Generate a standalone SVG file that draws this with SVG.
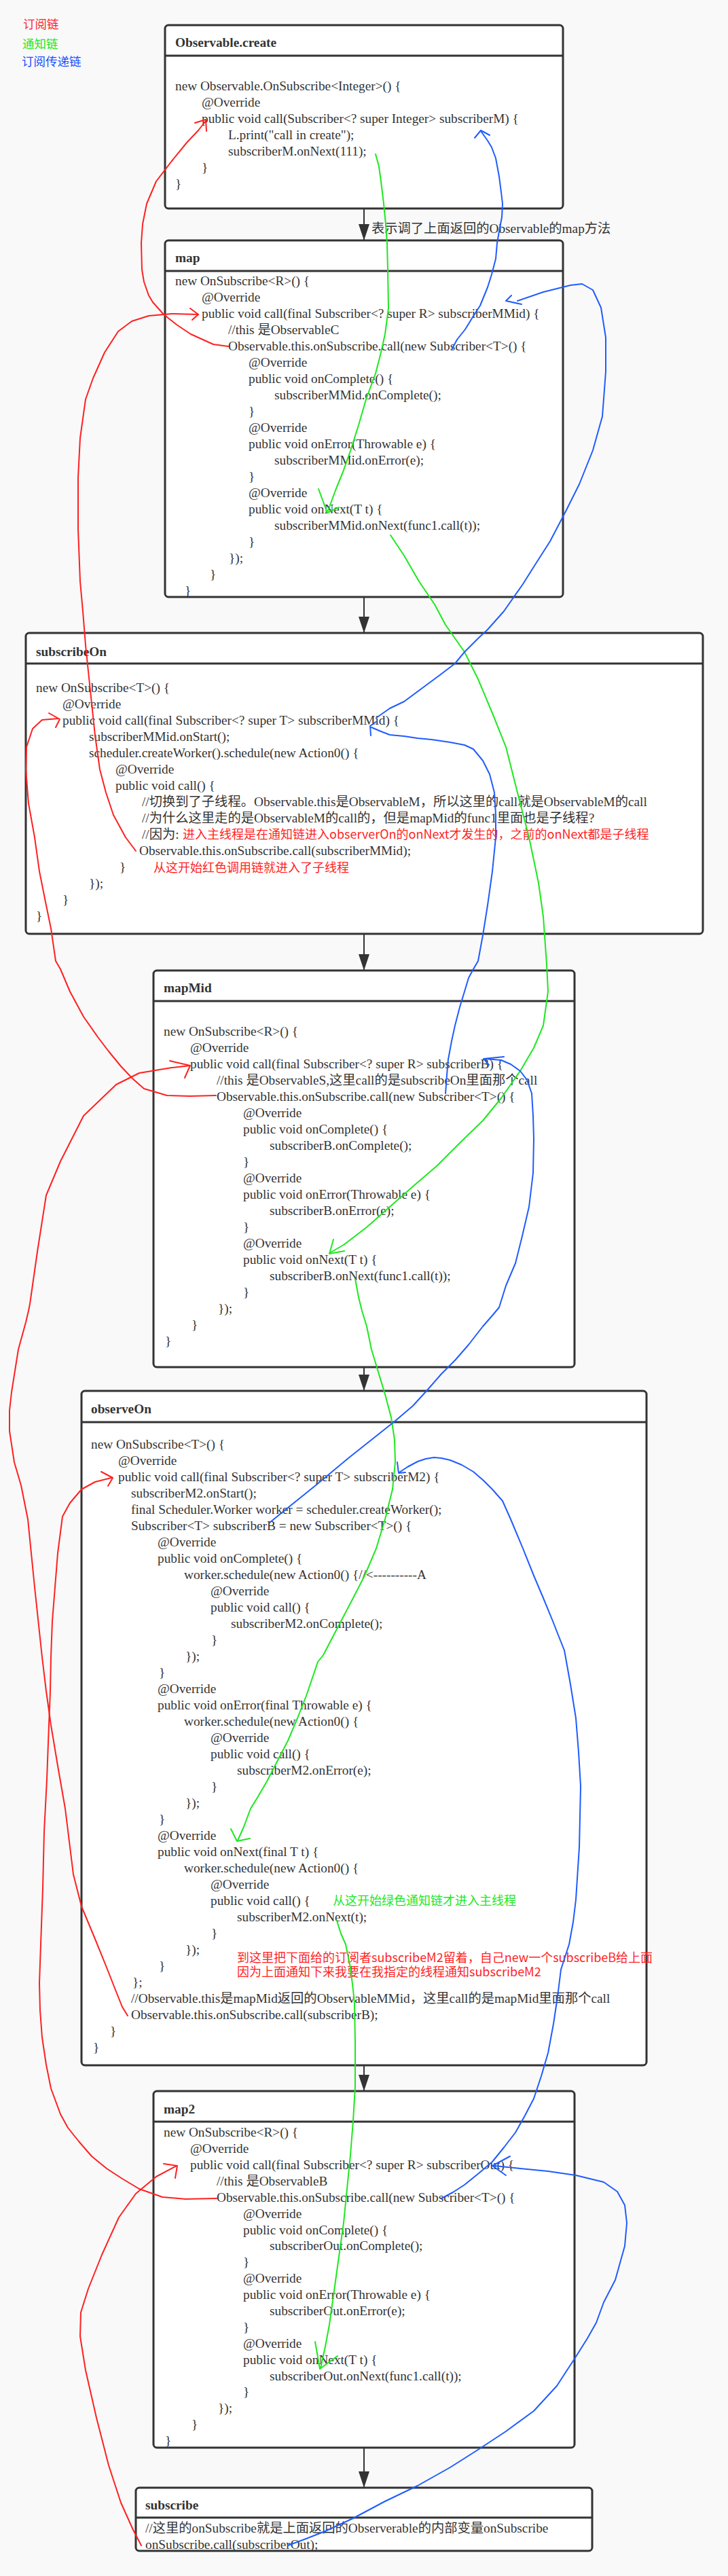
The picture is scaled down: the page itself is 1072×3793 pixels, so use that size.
<svg xmlns="http://www.w3.org/2000/svg" width="1072" height="3793" viewBox="0 0 1072 3793">
<defs>
<style>
.c{font-family:"Liberation Serif","Noto Sans CJK SC",serif;font-size:19.3px;fill:#333}
.t{font-weight:bold}
.a{font-family:"Noto Sans CJK SC",sans-serif;font-size:18px}
.lg{font-family:"Noto Sans CJK SC",sans-serif;font-size:17.5px}
.red{fill:#ff1f1f}.grn{fill:#1ee81e}.blu{fill:#1a4fff}
.box{fill:#fff;stroke:#333;stroke-width:3}
.hd{stroke:#333;stroke-width:3}
.arr{stroke:#333;stroke-width:2;fill:none}
.hr,.hg,.hb{fill:none;stroke-width:2;stroke-linecap:round;stroke-linejoin:round}
.hr{stroke:#ff2020}.hg{stroke:#1ee81e}.hb{stroke:#1f5cff}
</style>
<marker id="ah" viewBox="0 0 24 16" refX="24" refY="8" markerWidth="24" markerHeight="16" markerUnits="userSpaceOnUse" orient="auto"><path d="M0,0 L24,8 L0,16 z" fill="#333"/></marker>
</defs>
<rect x="0" y="0" width="1072" height="3793" fill="#f9f9f9"/>

<g id="legend">
<text class="lg red" x="34" y="42">订阅链</text>
<text class="lg grn" x="33" y="71">通知链</text>
<text class="lg blu" x="32" y="97">订阅传递链</text>
</g>

<g id="node-create">
<rect class="box" x="243" y="37" width="586" height="270" rx="5"/>
<line class="hd" x1="243" y1="82" x2="829" y2="82"/>
<text class="c t" x="258" y="69">Observable.create</text>
<text class="c" x="258" y="133">new Observable.OnSubscribe&lt;Integer&gt;() {</text>
<text class="c" x="297" y="157">@Override</text>
<text class="c" x="297" y="181">public void call(Subscriber&lt;? super Integer&gt; subscriberM) {</text>
<text class="c" x="336" y="205">L.print("call in create");</text>
<text class="c" x="336" y="229">subscriberM.onNext(111);</text>
<text class="c" x="297" y="253">}</text>
<text class="c" x="258" y="277">}</text>
</g>

<g id="node-map">
<rect class="box" x="243" y="354" width="586" height="525" rx="5"/>
<line class="hd" x1="243" y1="399" x2="829" y2="399"/>
<text class="c t" x="258" y="386">map</text>
<text class="c" x="258" y="420">new OnSubscribe&lt;R&gt;() {</text>
<text class="c" x="297" y="444">@Override</text>
<text class="c" x="297" y="468">public void call(final Subscriber&lt;? super R&gt; subscriberMMid) {</text>
<text class="c" x="336" y="492">//this 是ObservableC</text>
<text class="c" x="336" y="516">Observable.this.onSubscribe.call(new Subscriber&lt;T&gt;() {</text>
<text class="c" x="366" y="540">@Override</text>
<text class="c" x="366" y="564">public void onComplete() {</text>
<text class="c" x="404" y="588">subscriberMMid.onComplete();</text>
<text class="c" x="366" y="612">}</text>
<text class="c" x="366" y="636">@Override</text>
<text class="c" x="366" y="660">public void onError(Throwable e) {</text>
<text class="c" x="404" y="684">subscriberMMid.onError(e);</text>
<text class="c" x="366" y="708">}</text>
<text class="c" x="366" y="732">@Override</text>
<text class="c" x="366" y="756">public void onNext(T t) {</text>
<text class="c" x="404" y="780">subscriberMMid.onNext(func1.call(t));</text>
<text class="c" x="366" y="804">}</text>
<text class="c" x="337" y="828">});</text>
<text class="c" x="309" y="852">}</text>
<text class="c" x="272" y="876">}</text>
</g>

<g id="node-subscribeOn">
<rect class="box" x="38" y="932" width="997" height="443" rx="5"/>
<line class="hd" x1="38" y1="977" x2="1035" y2="977"/>
<text class="c t" x="53" y="966">subscribeOn</text>
<text class="c" x="53" y="1019">new OnSubscribe&lt;T&gt;() {</text>
<text class="c" x="92" y="1043">@Override</text>
<text class="c" x="92" y="1067">public void call(final Subscriber&lt;? super T&gt; subscriberMMid) {</text>
<text class="c" x="131" y="1091">subscriberMMid.onStart();</text>
<text class="c" x="131" y="1115">scheduler.createWorker().schedule(new Action0() {</text>
<text class="c" x="170" y="1139">@Override</text>
<text class="c" x="170" y="1163">public void call() {</text>
<text class="c" x="209" y="1187">//切换到了子线程。Observable.this是ObservableM，所以这里的call就是ObservableM的call</text>
<text class="c" x="209" y="1211">//为什么这里走的是ObservableM的call的，但是mapMid的func1里面也是子线程?</text>
<text class="c" x="209" y="1235">//因为:<tspan class="a red" x="269">进入主线程是在通知链进入observerOn的onNext才发生的，之前的onNext都是子线程</tspan></text>
<text class="c" x="205" y="1259">Observable.this.onSubscribe.call(subscriberMMid);</text>
<text class="c" x="176" y="1283">}</text>
<text class="a red" x="226" y="1284">从这开始红色调用链就进入了子线程</text>
<text class="c" x="131" y="1307">});</text>
<text class="c" x="92" y="1331">}</text>
<text class="c" x="53" y="1355">}</text>
</g>

<g id="node-mapMid">
<rect class="box" x="226" y="1429" width="620" height="584" rx="5"/>
<line class="hd" x1="226" y1="1474" x2="846" y2="1474"/>
<text class="c t" x="241" y="1461">mapMid</text>
<text class="c" x="241" y="1525">new OnSubscribe&lt;R&gt;() {</text>
<text class="c" x="280" y="1549">@Override</text>
<text class="c" x="280" y="1573">public void call(final Subscriber&lt;? super R&gt; subscriberB) {</text>
<text class="c" x="319" y="1597">//this 是ObservableS,这里call的是subscribeOn里面那个call</text>
<text class="c" x="319" y="1621">Observable.this.onSubscribe.call(new Subscriber&lt;T&gt;() {</text>
<text class="c" x="358" y="1645">@Override</text>
<text class="c" x="358" y="1669">public void onComplete() {</text>
<text class="c" x="397" y="1693">subscriberB.onComplete();</text>
<text class="c" x="358" y="1717">}</text>
<text class="c" x="358" y="1741">@Override</text>
<text class="c" x="358" y="1765">public void onError(Throwable e) {</text>
<text class="c" x="397" y="1789">subscriberB.onError(e);</text>
<text class="c" x="358" y="1813">}</text>
<text class="c" x="358" y="1837">@Override</text>
<text class="c" x="358" y="1861">public void onNext(T t) {</text>
<text class="c" x="397" y="1885">subscriberB.onNext(func1.call(t));</text>
<text class="c" x="358" y="1909">}</text>
<text class="c" x="321" y="1933">});</text>
<text class="c" x="282" y="1957">}</text>
<text class="c" x="243" y="1981">}</text>
</g>

<g id="node-observeOn">
<rect class="box" x="120" y="2048" width="832" height="993" rx="5"/>
<line class="hd" x1="120" y1="2094" x2="952" y2="2094"/>
<text class="c t" x="134" y="2081">observeOn</text>
<text class="c" x="134" y="2133">new OnSubscribe&lt;T&gt;() {</text>
<text class="c" x="174" y="2157">@Override</text>
<text class="c" x="174" y="2181">public void call(final Subscriber&lt;? super T&gt; subscriberM2) {</text>
<text class="c" x="193" y="2205">subscriberM2.onStart();</text>
<text class="c" x="193" y="2229">final Scheduler.Worker worker = scheduler.createWorker();</text>
<text class="c" x="193" y="2253">Subscriber&lt;T&gt; subscriberB = new Subscriber&lt;T&gt;() {</text>
<text class="c" x="232" y="2277">@Override</text>
<text class="c" x="232" y="2301">public void onComplete() {</text>
<text class="c" x="271" y="2325">worker.schedule(new Action0() {//&lt;----------A</text>
<text class="c" x="310" y="2349">@Override</text>
<text class="c" x="310" y="2373">public void call() {</text>
<text class="c" x="340" y="2397">subscriberM2.onComplete();</text>
<text class="c" x="311" y="2421">}</text>
<text class="c" x="273" y="2445">});</text>
<text class="c" x="234" y="2469">}</text>
<text class="c" x="232" y="2493">@Override</text>
<text class="c" x="232" y="2517">public void onError(final Throwable e) {</text>
<text class="c" x="271" y="2541">worker.schedule(new Action0() {</text>
<text class="c" x="310" y="2565">@Override</text>
<text class="c" x="310" y="2589">public void call() {</text>
<text class="c" x="349" y="2613">subscriberM2.onError(e);</text>
<text class="c" x="311" y="2637">}</text>
<text class="c" x="273" y="2661">});</text>
<text class="c" x="234" y="2685">}</text>
<text class="c" x="232" y="2709">@Override</text>
<text class="c" x="232" y="2733">public void onNext(final T t) {</text>
<text class="c" x="271" y="2757">worker.schedule(new Action0() {</text>
<text class="c" x="310" y="2781">@Override</text>
<text class="c" x="310" y="2805">public void call() {</text>
<text class="a grn" x="490" y="2805">从这开始绿色通知链才进入主线程</text>
<text class="c" x="349" y="2829">subscriberM2.onNext(t);</text>
<text class="c" x="311" y="2853">}</text>
<text class="c" x="273" y="2877">});</text>
<text class="a red" x="349" y="2889">到这里把下面给的订阅者subscribeM2留着，自己new一个subscribeB给上面</text>
<text class="c" x="234" y="2901">}</text>
<text class="a red" x="349" y="2910">因为上面通知下来我要在我指定的线程通知subscribeM2</text>
<text class="c" x="195" y="2925">};</text>
<text class="c" x="193" y="2949">//Observable.this是mapMid返回的ObservableMMid，这里call的是mapMid里面那个call</text>
<text class="c" x="193" y="2973">Observable.this.onSubscribe.call(subscriberB);</text>
<text class="c" x="162" y="2997">}</text>
<text class="c" x="137" y="3021">}</text>
</g>

<g id="node-map2">
<rect class="box" x="226" y="3079" width="620" height="525" rx="5"/>
<line class="hd" x1="226" y1="3124" x2="846" y2="3124"/>
<text class="c t" x="241" y="3112">map2</text>
<text class="c" x="241" y="3146">new OnSubscribe&lt;R&gt;() {</text>
<text class="c" x="280" y="3170">@Override</text>
<text class="c" x="280" y="3194">public void call(final Subscriber&lt;? super R&gt; subscriberOut) {</text>
<text class="c" x="319" y="3218">//this 是ObservableB</text>
<text class="c" x="319" y="3242">Observable.this.onSubscribe.call(new Subscriber&lt;T&gt;() {</text>
<text class="c" x="358" y="3266">@Override</text>
<text class="c" x="358" y="3290">public void onComplete() {</text>
<text class="c" x="397" y="3313">subscriberOut.onComplete();</text>
<text class="c" x="358" y="3337">}</text>
<text class="c" x="358" y="3361">@Override</text>
<text class="c" x="358" y="3385">public void onError(Throwable e) {</text>
<text class="c" x="397" y="3409">subscriberOut.onError(e);</text>
<text class="c" x="358" y="3433">}</text>
<text class="c" x="358" y="3457">@Override</text>
<text class="c" x="358" y="3481">public void onNext(T t) {</text>
<text class="c" x="397" y="3505">subscriberOut.onNext(func1.call(t));</text>
<text class="c" x="358" y="3528">}</text>
<text class="c" x="321" y="3552">});</text>
<text class="c" x="282" y="3576">}</text>
<text class="c" x="243" y="3600">}</text>
</g>

<g id="node-subscribe">
<rect class="box" x="200" y="3663" width="672" height="93" rx="5"/>
<line class="hd" x1="200" y1="3707" x2="872" y2="3707"/>
<text class="c t" x="214" y="3695">subscribe</text>
<text class="c" x="214" y="3729">//这里的onSubscribe就是上面返回的Observerable的内部变量onSubscribe</text>
<text class="c" x="214" y="3753">onSubscribe.call(subscriberOut);</text>
</g>

<g id="connectors">
<path class="arr" d="M536,307 L536,354" marker-end="url(#ah)"/>
<text class="c" x="547" y="343">表示调了上面返回的Observable的map方法</text>
<path class="arr" d="M536,879 L536,932" marker-end="url(#ah)"/>
<path class="arr" d="M536,1375 L536,1429" marker-end="url(#ah)"/>
<path class="arr" d="M536,2013 L536,2048" marker-end="url(#ah)"/>
<path class="arr" d="M536,3041 L536,3079" marker-end="url(#ah)"/>
<path class="arr" d="M536,3604 L536,3663" marker-end="url(#ah)"/>

<g id="red-chain">
<path class="hr" d="M208,3748 L196,3725 L178,3685 L160,3630 L142,3560 L126,3490 L118,3440 L119,3405 L130,3370 L150,3320 L175,3265 L200,3230 L230,3205 L260,3189"/>
<path class="hr" d="M241,3186 L261,3189 L258,3207"/>
<path class="hr" d="M319,3237 L273,3238 L239,3235 L205,3223 L180,3208 L157,3193 L135,3175 L116,3153 L100,3133 L89,3113 L75,3075 L68,3040 L62,3000 L59,2960 L58,2920 L60,2863 L63,2780 L65,2697 L69,2620 L72,2540 L74,2490 L75,2440 L77,2387 L81,2337 L85,2287 L92,2233 L103,2213 L120,2193 L140,2182 L164,2176"/>
<path class="hr" d="M149,2167 L166,2176 L159,2188"/>
<path class="hr" d="M188,2968 L180,2955 L172,2935 L157,2897 L140,2855 L120,2807 L108,2760 L96,2663 L85,2600 L75,2540 L68,2490 L62,2440 L51,2337 L41,2237 L31,2187 L21,2153 L14,2107 L14,2077 L17,2050 L27,1987 L38,1947 L42,1930 L44,1920 L55,1843 L68,1760 L89,1710 L123,1643 L171,1597 L205,1580 L253,1572 L280,1569"/>
<path class="hr" d="M250,1562 L280,1569 L272,1587"/>
<path class="hr" d="M318,1613 L280,1614 L246,1613 L212,1603 L195,1588 L178,1570 L160,1548 L144,1527 L123,1497 L103,1460 L89,1427 L82,1415 L75,1367 L68,1333 L58,1283 L51,1233 L42,1183 L38,1133 L39,1100 L48,1073 L62,1060 L86,1058"/>
<path class="hr" d="M72,1050 L88,1059 L82,1071"/>
<path class="hr" d="M200,1253 L185,1233 L167,1200 L156,1167 L147,1133 L140,1083 L133,1017 L126,950 L122,900 L118,856 L115,779 L115,703 L118,645 L126,588 L137,557 L154,519 L174,488 L194,473 L219,465 L253,462 L292,463"/>
<path class="hr" d="M280,454 L292,463 L283,471"/>
<path class="hr" d="M336,510 L314,507 L281,492 L260,478 L241,463 L225,445 L219,435 L212,415 L209,397 L208,358 L210,330 L216,300 L230,267 L253,237 L275,210 L292,192 L303,178"/>
<path class="hr" d="M287,181 L303,176 L304,193"/>
</g>

<g id="green-chain">
<path class="hg" d="M553,227 L558,245 L561,267 L565,300 L568,330 L570,358 L571,397 L572,454 L567,492 L561,519 L553,550 L539,588 L528,626 L516,664 L505,695 L494,722 L483,752"/>
<path class="hg" d="M469,720 L482,755 L499,747"/>
<path class="hg" d="M575,788 L595,818 L617,856 L640,890 L656,920 L684,960 L704,1000 L725,1050 L745,1100 L762,1167 L779,1233 L793,1300 L800,1350 L805,1420 L807,1460 L800,1510 L786,1543 L766,1577 L738,1617 L711,1650 L677,1683 L643,1717 L608,1747 L574,1777 L540,1807 L506,1833 L487,1844"/>
<path class="hg" d="M491,1825 L485,1846 L507,1842"/>
<path class="hg" d="M523,1883 L528,1910 L533,1930 L540,1953 L547,1987 L557,2020 L567,2053 L576,2087 L581,2120 L582,2153 L578,2193 L567,2237 L554,2280 L537,2320 L520,2353 L499,2393 L476,2437 L468,2447 L451,2497 L438,2530 L424,2563 L410,2590 L393,2623 L379,2647 L369,2663 L359,2690 L350,2710"/>
<path class="hg" d="M340,2693 L349,2711 L368,2707"/>
<path class="hg" d="M496,2828 L502,2847 L509,2863 L516,2897 L520,2930 L522,2950 L523,3007 L523,3073 L520,3123 L516,3173 L511,3223 L506,3273 L499,3323 L492,3373 L485,3423 L479,3455 L472,3487"/>
<path class="hg" d="M464,3448 L471,3488 L497,3469"/>
</g>

<g id="blue-chain">
<path class="hb" d="M424,3748 L451,3738 L479,3727 L520,3708 L567,3683 L615,3660 L663,3633 L704,3607 L745,3580 L786,3550 L820,3513 L848,3470 L865,3443 L878,3420 L889,3390 L906,3357 L920,3307 L923,3273 L920,3247 L909,3227 L889,3213 L848,3203 L807,3197 L766,3193 L728,3189"/>
<path class="hb" d="M751,3175 L725,3189 L745,3203"/>
<path class="hb" d="M650,3237 L667,3228 L684,3217 L705,3200 L725,3183 L742,3162 L759,3140 L773,3115 L786,3090 L797,3057 L807,3023 L815,2980 L821,2940 L826,2900 L838,2863 L844,2830 L848,2797 L853,2720 L855,2630 L852,2580 L848,2530 L840,2480 L831,2430 L823,2410 L814,2387 L800,2353 L786,2320 L770,2280 L752,2237 L740,2210 L725,2193 L712,2180 L697,2167 L680,2157 L663,2150 L650,2147 L639,2146 L627,2148 L615,2152 L600,2160 L588,2168"/>
<path class="hb" d="M585,2153 L587,2169 L597,2168"/>
<path class="hb" d="M397,2242 L424,2220 L465,2187 L513,2147 L547,2120 L581,2093 L608,2070 L629,2047 L650,2023 L670,2003 L690,1980 L711,1953 L725,1937 L735,1925 L745,1893 L759,1860 L769,1820 L779,1777 L785,1727 L786,1677 L785,1643 L783,1610 L776,1590 L766,1577 L752,1567 L738,1561 L714,1559"/>
<path class="hb" d="M742,1556 L712,1559 L720,1568"/>
<path class="hb" d="M656,1610 L658,1583 L660,1560 L665,1533 L670,1510 L677,1483 L684,1460 L690,1440 L697,1427 L704,1415 L711,1377 L718,1333 L725,1283 L730,1233 L730,1200 L728,1167 L721,1140 L711,1120 L697,1103 L684,1097 L663,1093 L636,1089 L615,1087 L595,1084 L574,1082 L561,1077 L547,1071"/>
<path class="hb" d="M555,1062 L545,1069 L546,1083"/>
<path class="hb" d="M554,1057 L574,1043 L595,1033 L622,1013 L649,993 L670,977 L684,960 L704,940 L718,927 L742,900 L770,860 L787,833 L810,797 L833,753 L853,713 L873,663 L887,613 L892,547 L892,497 L885,453 L873,427 L857,418 L840,420 L800,430 L762,443"/>
<path class="hb" d="M753,435 L745,443 L768,448"/>
<path class="hb" d="M665,515 L673,500 L685,485 L696,467 L707,450 L718,423 L724,404 L730,381 L732,358 L736,335 L739,320 L740,300 L738,283 L735,260 L730,233 L724,217 L718,207 L708,193"/>
<path class="hb" d="M699,203 L708,192 L721,199"/>
</g>
</g>
</svg>
